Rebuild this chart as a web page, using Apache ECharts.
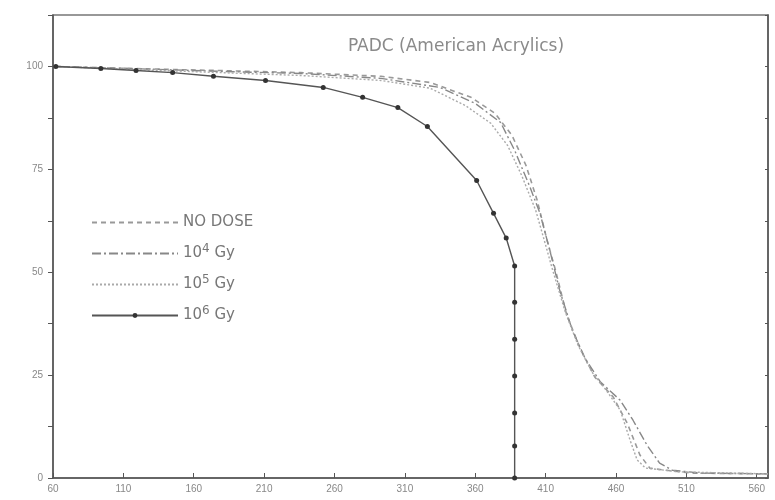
<!DOCTYPE html>
<html>
<head>
<meta charset="utf-8">
<script src="https://cdn.jsdelivr.net/npm/echarts@6/dist/echarts.min.js"></script>
<style>html,body{margin:0;padding:0;background:#fff}#c{width:775px;height:500px}</style>
</head>
<body>
<div id="c"></div>
<script>
const xTickLabels = [60,110,160,210,260,310,360,410,460,510,560];
const yTickLabels = [0,25,50,75,100];
const yMinorTicks = [0,12.5,25,37.5,50,62.5,75,87.5,100,112.5];
const seriesNames = ['NO DOSE','10^4 Gy','10^5 Gy','10^6 Gy'];

const noDose = [[62,100],[115,99.5],[179,99],[236,98.5],[293,97.6],[328,96.1],[357,92.5],[374,88.6],[386,83.3],[396,76],[404,67.5],[411,57.8],[417,50.5],[425,39.6],[435,31.1],[445,24.5],[458,19.7],[468,13.3],[477,5.6],[484,2.4],[495,1.9],[513,1.2],[568,1.0]];
const dose1e4 = [[62,100],[115,99.5],[179,98.8],[236,98.3],[293,97.1],[335,94.9],[360,91.0],[378,86.4],[388,79.6],[399,70.6],[406,64.3],[413,55.3],[420,45.6],[429,35.9],[438,29.1],[449,23.3],[463,18.9],[472,14.1],[482,8.0],[491,3.6],[500,1.9],[520,1.2],[568,1.0]];
const dose1e5 = [[62,100],[115,99.3],[179,98.5],[236,97.8],[293,96.6],[328,94.7],[353,90.5],[371,86.2],[383,80.8],[393,73.5],[403,65.0],[410,56.6],[415,50.5],[424,40.3],[433,32.3],[443,25.7],[452,21.8],[463,16.5],[470,9.2],[475,4.4],[481,2.4],[505,1.5],[568,1.0]];
const dose1e6 = [[62,100],[94,99.5],[119,99],[145,98.5],[174,97.6],[211,96.6],[252,94.9],[280,92.5],[305,90],[326,85.4],[361,72.3],[373,64.3],[382,58.3],[388,51.5],[388,42.7],[388,33.7],[388,24.8],[388,15.8],[388,7.8],[388,0]];

const chart = echarts.init(document.getElementById('c'), null, {renderer:'canvas'});
const axisCol = '#555';
const txtCol = '#888';
chart.setOption({
  animation: false,
  backgroundColor: '#fff',
  title: {
    text: 'PADC (American Acrylics)',
    left: 451, top: 33, textAlign: 'center',
    textStyle: {fontFamily: 'DejaVu Sans', fontSize: 17, fontWeight: 'normal', color: '#8a8a8a'}
  },
  grid: {left: 53, right: 7, top: 15, bottom: 22, show: true, borderColor: '#777', borderWidth: 1.5, backgroundColor: 'transparent'},
  legend: {
    orient: 'vertical', left: 86, top: 210,
    itemWidth: 86, itemHeight: 6, itemGap: 13,
    data: [
      {name: seriesNames[0], itemStyle: {opacity: 0}},
      {name: seriesNames[1], itemStyle: {opacity: 0}},
      {name: seriesNames[2], itemStyle: {opacity: 0}},
      {name: seriesNames[3]}
    ],
    formatter: function(n){
      if (n.indexOf('^') < 0) return n;
      const p = n.split('^'); const e = p[1].split(' ');
      return p[0] + '{sup|' + e[0] + '} ' + e[1];
    },
    textStyle: {fontFamily: 'DejaVu Sans', fontSize: 15, color: '#777',
      rich: {sup: {fontSize: 12, color: '#777', padding: [0,0,9,0], fontFamily: 'DejaVu Sans'}}}
  },
  xAxis: {
    type: 'value', min: 60, max: 568,
    axisLine: {show: true, onZero: false, lineStyle: {color: axisCol, width: 1.5}},
    splitLine: {show: false},
    axisTick: {show: true, inside: true, length: 5, customValues: xTickLabels, lineStyle: {color: axisCol}},
    axisLabel: {customValues: xTickLabels, color: txtCol, fontSize: 10, margin: 6, fontFamily: 'Liberation Sans'}
  },
  yAxis: [{
    type: 'value', min: 0, max: 112.5,
    axisLine: {show: true, lineStyle: {color: axisCol, width: 1.5}},
    splitLine: {show: false},
    axisTick: {show: true, length: 5, customValues: yMinorTicks, lineStyle: {color: axisCol}},
    axisLabel: {customValues: yTickLabels, color: txtCol, fontSize: 10, margin: 10, fontFamily: 'Liberation Sans'}
  },{
    type: 'value', min: 0, max: 112.5, position: 'right',
    axisLine: {show: true, lineStyle: {color: axisCol, width: 1.5}},
    splitLine: {show: false},
    axisTick: {show: true, inside: true, length: 3, customValues: yMinorTicks, lineStyle: {color: axisCol}},
    axisLabel: {show: false}
  }],
  series: [
    {name: seriesNames[0], type: 'line', data: noDose, showSymbol: false, symbol: 'none',
      lineStyle: {color: '#999', width: 1.6, type: [5,4]}, itemStyle: {color: '#999'}},
    {name: seriesNames[1], type: 'line', data: dose1e4, showSymbol: false, symbol: 'none',
      lineStyle: {color: '#888', width: 1.4, type: [9,3,2,3]}, itemStyle: {color: '#888'}},
    {name: seriesNames[2], type: 'line', data: dose1e5, showSymbol: false, symbol: 'none',
      lineStyle: {color: '#aaa', width: 1.4, type: [2,2]}, itemStyle: {color: '#aaa'}},
    {name: seriesNames[3], type: 'line', data: dose1e6, symbol: 'circle', symbolSize: 5,
      lineStyle: {color: '#555', width: 1.4}, itemStyle: {color: '#333'}}
  ]
});
</script>
</body>
</html>
